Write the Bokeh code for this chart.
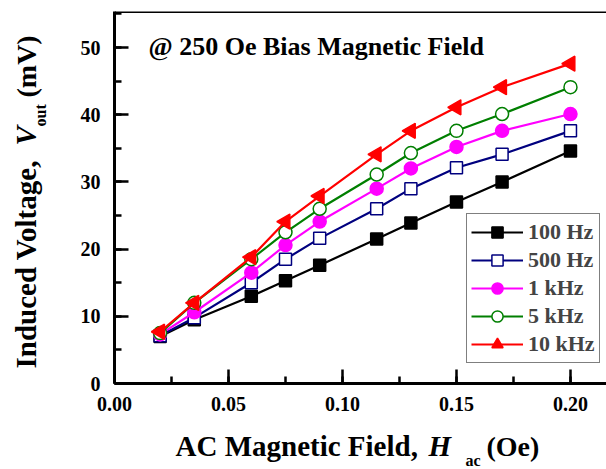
import math
from bokeh.plotting import figure
from bokeh.layouts import column, row
from bokeh.models import (Label, Legend, LegendItem, SingleIntervalTicker,
                          Range1d, Span, NumeralTickFormatter)
from bokeh.embed import file_html
from bokeh.resources import INLINE

# ---- data ----
h_ac = [0.02, 0.035, 0.06, 0.075, 0.09, 0.115, 0.13, 0.15, 0.17, 0.20]
v_100hz = [7.0, 9.5, 13.0, 15.3, 17.6, 21.5, 23.9, 27.0, 30.0, 34.6]
v_500hz = [7.1, 9.8, 15.0, 18.5, 21.6, 26.0, 29.0, 32.1, 34.1, 37.6]
v_1khz = [7.3, 10.6, 16.5, 20.6, 24.1, 29.0, 32.0, 35.2, 37.6, 40.1]
v_5khz = [7.5, 12.0, 18.5, 22.5, 26.0, 31.1, 34.3, 37.6, 40.1, 44.1]
v_10khz = [7.7, 12.0, 18.8, 24.1, 27.9, 34.1, 37.6, 41.1, 44.1, 47.6]
series_labels = ["100 Hz", "500 Hz", "1 kHz", "5 kHz", "10 kHz"]
title_text = "@ 250 Oe Bias Magnetic Field"

FONT = "Liberation Serif"
X_END = 0.2158
Y_END = 55.36
YLAB_W = 60
XLAB_H = 45
TOTAL_W, TOTAL_H = 606, 469

p = figure(width=TOTAL_W - YLAB_W, height=TOTAL_H - XLAB_H,
           output_backend="svg", toolbar_location=None,
           x_range=Range1d(0, X_END), y_range=Range1d(0, Y_END),
           min_border_left=114 - YLAB_W, min_border_right=0, min_border_top=11,
           min_border_bottom=TOTAL_H - XLAB_H - 383)
p.outline_line_color = None
p.grid.visible = False
p.background_fill_color = "white"
p.border_fill_color = "white"

p.xaxis.ticker = SingleIntervalTicker(interval=0.05, num_minor_ticks=2)
p.yaxis.ticker = SingleIntervalTicker(interval=10, num_minor_ticks=2)
p.xaxis.formatter = NumeralTickFormatter(format="0.00")
for ax in (p.xaxis, p.yaxis):
    ax.axis_line_width = 3
    ax.axis_line_color = "black"
    ax.major_tick_in = 14
    ax.major_tick_out = 0
    ax.minor_tick_in = 7
    ax.minor_tick_out = 0
    ax.major_tick_line_width = 2.5
    ax.minor_tick_line_width = 2.5
    ax.major_tick_line_color = "black"
    ax.minor_tick_line_color = "black"
    ax.major_label_text_font = FONT
    ax.major_label_text_font_style = "bold"
    ax.major_label_text_font_size = "20px"
    ax.major_label_text_color = "black"
p.xaxis.major_label_standoff = 13
p.yaxis.major_label_standoff = 14

p.add_layout(Span(location=Y_END, dimension="width", line_color="black", line_width=3))

styles = [
    (v_100hz, "black", "square", "black", 12, 0),
    (v_500hz, "#00007F", "square", "white", 12, 0),
    (v_1khz, "#FF00FF", "circle", "#FF00FF", 13, 0),
    (v_5khz, "#007F00", "circle", "white", 13, 0),
    (v_10khz, "#FF0000", "triangle", "#FF0000", 15, math.pi / 2),
]
items = []
for (vals, col, mk, fill, sz, ang), lab_txt in zip(styles, series_labels):
    r1 = p.line(h_ac, vals, line_color=col, line_width=2.2)
    r2 = p.scatter(h_ac, vals, marker=mk, size=sz, angle=ang,
                   line_color=col, fill_color=fill, line_width=1.5)
    items.append(LegendItem(label=lab_txt, renderers=[r1, r2]))

legend = Legend(items=items, location=(352, 20), border_line_color="black",
                border_line_width=1, padding=4, spacing=0, glyph_width=52,
                glyph_height=28, label_height=28, label_standoff=5, margin=0,
                label_text_font=FONT, label_text_font_style="bold",
                label_text_font_size="22px", background_fill_alpha=1)
p.add_layout(legend)


def lab(fig, text, x, y, size, style="bold", angle=0, units="canvas"):
    fig.add_layout(Label(text=text, x=x, y=y, x_units=units, y_units=units,
                         angle=angle, text_font=FONT, text_font_style=style,
                         text_font_size=size, text_color="black",
                         text_align="left", text_baseline="middle"))


# title (anchor at text middle, frame-relative screen units)
lab(p, title_text, 34, 337, "26px", units="screen")


def blank_fig(w, h):
    f = figure(width=w, height=h, output_backend="svg", toolbar_location=None,
               x_range=Range1d(0, w), y_range=Range1d(0, h),
               x_axis_location=None, y_axis_location=None, min_border=0)
    f.outline_line_color = None
    f.grid.visible = False
    f.background_fill_color = "white"
    f.border_fill_color = "white"
    return f


# y axis label figure (left strip)
yfig = blank_fig(YLAB_W, TOTAL_H - XLAB_H)
A = math.pi / 2
lab(yfig, "Induced Voltage,", 25, 368, "29px", angle=A)
lab(yfig, "V", 25, 145, "29px", "bold italic", angle=A)
lab(yfig, "out", 40, 126, "16px", angle=A)
lab(yfig, "(mV)", 26, 97, "28px", angle=A)

# x axis label figure (bottom strip)
xfig = blank_fig(TOTAL_W, XLAB_H)
top = TOTAL_H - XLAB_H
lab(xfig, "AC Magnetic Field,", 175, 445 - top, "29px")
lab(xfig, "H", 428, 445 - top, "29px", "bold italic")
lab(xfig, "ac", 465, 460 - top, "16px")
lab(xfig, "(Oe)", 486, 446 - top, "28px")

layout = column(row(yfig, p), xfig)
open("out.html", "w").write(file_html(layout, INLINE))
